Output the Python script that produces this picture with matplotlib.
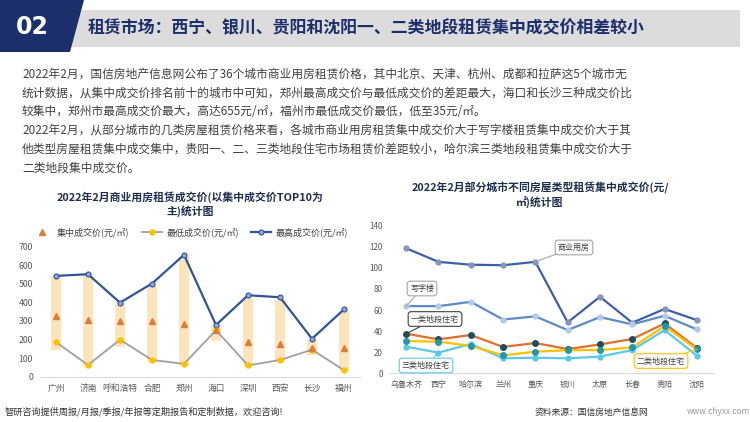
import matplotlib
matplotlib.use("Agg")
import matplotlib.pyplot as plt
from matplotlib.patches import Polygon, Rectangle

plt.rcParams['font.family'] = ['Noto Sans CJK SC', 'DejaVu Sans']

# ---- left chart data (元/㎡) ----
cities_l = ['广州', '济南', '呼和浩特', '合肥', '郑州', '海口', '深圳', '西安', '长沙', '福州']
price_mid = [329, 306, 297, 297, 284, 253, 186, 174, 154, 154]
price_low = [186, 63, 199, 90, 69, 250, 61, 90, 145, 35]
price_high = [542, 551, 398, 501, 655, 278, 438, 427, 204, 362]
range_bottom = [143, 57, 158, 81, 57, 192, 57, 86, 116, 32]
range_top = [540, 545, 395, 495, 650, 280, 425, 410, 200, 355]

# ---- right chart data (元/㎡) ----
cities_r = ['乌鲁木齐', '西宁', '哈尔滨', '兰州', '重庆', '银川', '太原', '长春', '贵阳', '沈阳']
commercial = [118.6, 105.7, 103.0, 102.5, 105.7, 48.3, 72.6, 48.0, 61.0, 50.5]
office = [63.7, 63.7, 67.8, 51.0, 54.0, 41.0, 53.3, 46.4, 54.6, 41.6]
zone1 = [37.5, 32.2, 36.3, 25.0, 28.7, 23.0, 27.4, 32.5, 47.3, 24.0]
zone2 = [30.6, 30.0, 26.0, 17.0, 20.5, 22.0, 22.0, 24.6, 44.8, 22.7]
zone3 = [25.2, 19.6, 27.8, 14.2, 14.8, 14.2, 15.8, 22.0, 41.0, 16.7]

W, H = 750, 422
fig = plt.figure(figsize=(7.5, 4.22), dpi=100)
fig.patch.set_facecolor('white')


def fx(px):
    return px / W


def fy(py):
    return 1 - py / H


# header
fig.patches.append(Rectangle((fx(60), fy(47)), fx(680), 37 / H, transform=fig.transFigure,
                             facecolor='#DCDCDC', edgecolor='none'))
fig.patches.append(Polygon([(0, fy(0)), (fx(84), fy(0)), (fx(70), fy(52)), (0, fy(52))],
                           closed=True, transform=fig.transFigure,
                           facecolor='#1B2F6B', edgecolor='none'))
fig.text(fx(32), fy(27), '02', color='white', fontsize=17, fontweight='bold',
         ha='center', va='center', family='DejaVu Sans')
fig.text(fx(88), fy(28), '租赁市场：西宁、银川、贵阳和沈阳一、二类地段租赁集中成交价相差较小',
         color='#1B2F6B', fontsize=12.2, fontweight='bold', ha='left', va='center')

# body text
body = [
    '2022年2月，国信房地产信息网公布了36个城市商业用房租赁价格，其中北京、天津、杭州、成都和拉萨这5个城市无',
    '统计数据，从集中成交价排名前十的城市中可知，郑州最高成交价与最低成交价的差距最大，海口和长沙三种成交价比',
    '较集中，郑州市最高成交价最大，高达655元/㎡，福州市最低成交价最低，低至35元/㎡。',
    '2022年2月，从部分城市的几类房屋租赁价格来看，各城市商业用房租赁集中成交价大于写字楼租赁集中成交价大于其',
    '他类型房屋租赁集中成交集中，贵阳一、二、三类地段住宅市场租赁价差距较小，哈尔滨三类地段租赁集中成交价大于',
    '二类地段集中成交价。',
]
for i, line in enumerate(body):
    fig.text(fx(22), fy(74 + i * 18.8), line, color='#404040', fontsize=8.45,
             ha='left', va='center')

# footer
fig.text(fx(5), fy(412), '智研咨询提供周报/月报/季报/年报等定期报告和定制数据，欢迎咨询!',
         color='#333333', fontsize=6.6, ha='left', va='center')
fig.text(fx(535), fy(412), '资料来源：国信房地产信息网', color='#333333', fontsize=6.3,
         ha='left', va='center')
fig.text(fx(687), fy(412), 'www.chyxx.com', color='#9A9A9A', fontsize=6,
         ha='left', va='center')

# ---- left chart ----
ax1 = fig.add_axes([fx(40), fy(376.7), fx(320), (376.7 - 246.5) / H])
xl = list(range(len(cities_l)))
ax1.bar(xl, [t - b for t, b in zip(range_top, range_bottom)], bottom=range_bottom,
        width=0.31, color='#FCE4BD', zorder=1)
ax1.plot(xl, price_low, color='#A0A0A0', lw=1.3, marker='o', ms=3.6,
         mfc='#FFC000', mec='#FFC000', zorder=2, label='最低成交价(元/㎡)')
ax1.plot(xl, price_high, color='#2F5597', lw=1.6, marker='o', ms=3.6,
         mfc='#8FA8D8', mec='#2F5597', mew=0.8, zorder=3, label='最高成交价(元/㎡)')
ax1.plot(xl, price_mid, ls='none', marker='^', ms=5, color='#E07B39', zorder=4,
         label='集中成交价(元/㎡)')
ax1.set_xlim(-0.5, len(cities_l) - 0.5)
ax1.set_ylim(0, 700)
ax1.set_yticks(range(0, 701, 100))
ax1.set_xticks(xl)
ax1.set_xticklabels(cities_l)
ax1.tick_params(length=0, labelsize=6.3, colors='#595959', pad=5)
for s in ['top', 'right', 'left']:
    ax1.spines[s].set_visible(False)
ax1.spines['bottom'].set_color('#D9D9D9')
h, l = ax1.get_legend_handles_labels()
ax1.legend([h[2], h[0], h[1]], [l[2], l[0], l[1]], loc='center',
           bbox_to_anchor=(0.47, 1.11), ncol=3, frameon=False, fontsize=6.5,
           handlelength=2.2, columnspacing=1.4, handletextpad=0.5,
           labelcolor='#404040')
fig.text(fx(190), fy(204), '2022年2月商业用房租赁成交价(以集中成交价TOP10为\n主)统计图',
         color='#1F2D4D', fontsize=7.8, fontweight='bold', ha='center', va='center',
         linespacing=1.3)

# ---- right chart ----
ax2 = fig.add_axes([fx(390), fy(373.3), fx(323), (373.3 - 225.7) / H])
xr = list(range(len(cities_r)))
ax2.plot(xr, commercial, color='#3E5FA8', lw=1.6, marker='o', ms=3.5,
         mfc='#8096BC', mec='#8096BC', zorder=3)
ax2.plot(xr, office, color='#5B8CC8', lw=1.6, marker='o', ms=3.5,
         mfc='#B3CBE6', mec='#B3CBE6', zorder=3)
ax2.plot(xr, zone1, color='#E0702F', lw=1.6, marker='o', ms=4,
         mfc='#1F4E5F', mec='#1F4E5F', zorder=4)
ax2.plot(xr, zone2, color='#FFC000', lw=1.6, marker='o', ms=4,
         mfc='#2196B0', mec='#2196B0', zorder=5)
ax2.plot(xr, zone3, color='#5BC8E8', lw=1.6, marker='o', ms=3.5,
         mfc='#5BC8E8', mec='#5BC8E8', zorder=3)
ax2.set_xlim(-0.5, len(cities_r) - 0.5)
ax2.set_ylim(0, 140)
ax2.set_yticks(range(0, 141, 20))
ax2.set_xticks(xr)
ax2.set_xticklabels(cities_r)
ax2.tick_params(length=0, labelsize=5.8, colors='#595959', pad=5)
for s in ['top', 'right', 'left']:
    ax2.spines[s].set_visible(False)
ax2.spines['bottom'].set_color('#D9D9D9')
fig.text(fx(540), fy(195), '2022年2月部分城市不同房屋类型租赁集中成交价(元/\n㎡)统计图',
         color='#1F2D4D', fontsize=7.8, fontweight='bold', ha='center', va='center',
         linespacing=1.3)

# callout labels
callouts = [
    ('商业用房', commercial, 4, (574, 247.5), '#A6A6A6'),
    ('写字楼', office, 0, (422, 288.5), '#A6A6A6'),
    ('一类地段住宅', zone1, 0, (435, 319), '#404040'),
    ('三类地段住宅', zone3, 1, (426, 365.5), '#5BC8E8'),
    ('二类地段住宅', zone2, 9, (661, 361), '#FFC000'),
]
for text, series, idx, (px, py), ec in callouts:
    ax2.annotate(text, xy=(idx, series[idx]), xycoords='data',
                 xytext=(fx(px), fy(py)), textcoords='figure fraction',
                 ha='center', va='center', fontsize=5.8, color='#404040',
                 bbox=dict(boxstyle='round,pad=0.35', fc='white', ec=ec, lw=0.8),
                 arrowprops=dict(arrowstyle='-', color=ec, lw=0.8,
                                 shrinkA=0, shrinkB=0),
                 zorder=6)

fig.savefig('out.png', dpi=100)
